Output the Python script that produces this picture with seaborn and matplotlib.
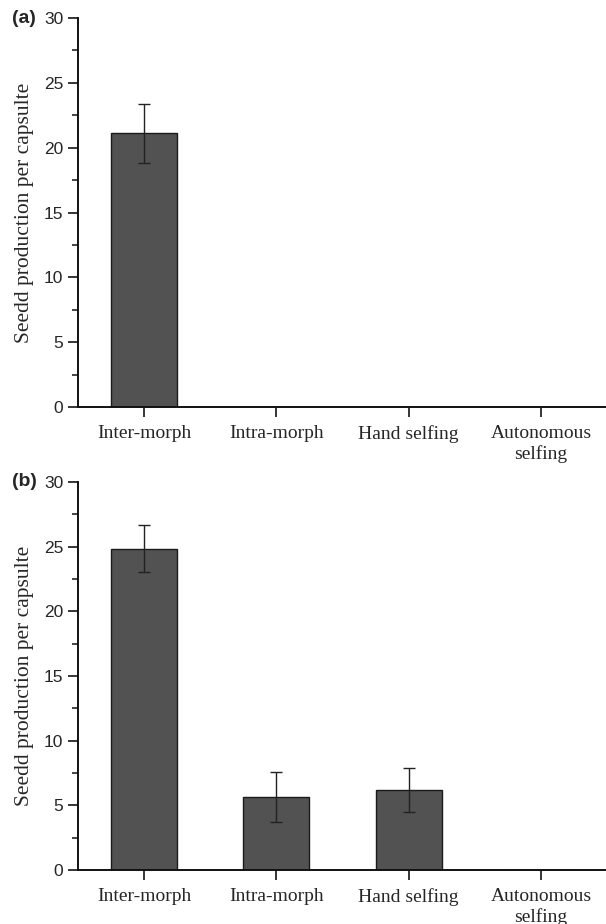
import numpy as np
import pandas as pd
import matplotlib
matplotlib.use('Agg')
import matplotlib.pyplot as plt
import seaborn as sns
from matplotlib.ticker import MultipleLocator

# Data
categories = ['Inter-morph', 'Intra-morph', 'Hand selfing', 'Autonomous\nselfing']
seeds_a = [21.1, 0.0, 0.0, 0.0]
err_a = [2.3, 0.0, 0.0, 0.0]
seeds_b = [24.85, 5.65, 6.15, 0.0]
err_b = [1.8, 1.9, 1.7, 0.0]
panel_labels = ['(a)', '(b)']
yticks = [0, 5, 10, 15, 20, 25, 30]

sns.set_style('ticks')
plt.rcParams['font.family'] = ['Liberation Sans', 'DejaVu Sans']

fig = plt.figure(figsize=(6.06, 9.24), dpi=100)
ax_a = fig.add_axes([0.1287, 0.5595, 0.873, 0.421])
ax_b = fig.add_axes([0.1287, 0.0584, 0.873, 0.420])

bar_color = '#525252'

for ax, vals, errs, lab in [(ax_a, seeds_a, err_a, panel_labels[0]),
                            (ax_b, seeds_b, err_b, panel_labels[1])]:
    df = pd.DataFrame({'treatment': categories, 'seeds': vals})
    sns.barplot(data=df, x='treatment', y='seeds', color=bar_color,
                edgecolor='#1a1a1a', linewidth=1.0, width=0.5,
                saturation=1, errorbar=None, ax=ax)
    pos = np.arange(len(categories))
    show = np.array(errs) > 0
    ax.errorbar(pos[show], np.array(vals)[show], yerr=np.array(errs)[show],
                fmt='none', ecolor='#222222', elinewidth=1.0, capsize=4,
                capthick=1.0)
    ax.set_xlim(-0.5, 3.5)
    ax.set_ylim(0, 30)
    ax.set_yticks(yticks)
    ax.yaxis.set_minor_locator(MultipleLocator(2.5))
    ax.tick_params(axis='y', which='major', length=7, width=1.3,
                   labelsize=12.5, direction='out')
    ax.tick_params(axis='y', which='minor', length=4, width=1.2, direction='out')
    ax.tick_params(axis='x', which='major', length=7, width=1.3, direction='out',
                   pad=6)
    for t in ax.get_xticklabels():
        t.set_fontfamily('Liberation Serif')
        t.set_fontsize(14)
    ax.set_xlabel('')
    ax.set_ylabel('Seedd production per capsulte', family='Liberation Serif',
                  fontsize=15.5, labelpad=7)
    for s in ['top', 'right']:
        ax.spines[s].set_visible(False)
    for s in ['left', 'bottom']:
        ax.spines[s].set_linewidth(1.4)
        ax.spines[s].set_color('#111111')
    ax.text(-0.125, 1.0, lab, transform=ax.transAxes, fontsize=14,
            fontweight='bold', ha='left', va='center')

fig.savefig('out.png', dpi=100)
